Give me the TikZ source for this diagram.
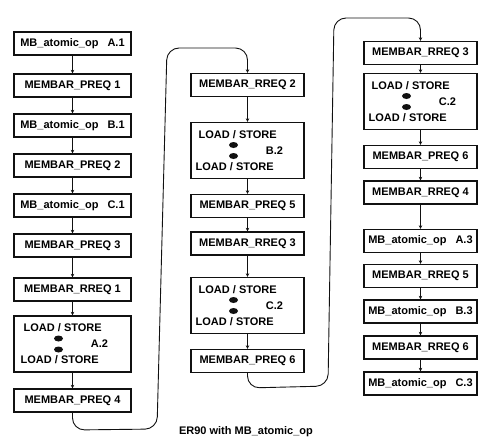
\documentclass[tikz,border=0pt]{standalone}
\usepackage{fontspec}
\setmainfont{Liberation Sans}
\usetikzlibrary{arrows.meta,shapes.geometric}
\definecolor{cInk}{HTML}{111111}
\tikzset{
  >={Stealth[length=3.5pt,width=3.5pt]},
  opbox/.style  ={draw=cInk,line width=1.3pt,minimum width=113pt,minimum height=23pt,
                  inner sep=0pt,font=\fontsize{11}{13}\selectfont\bfseries},
  widebox/.style={opbox,minimum width=117pt},
  lstext/.style ={inner sep=0pt,anchor=west,font=\fontsize{11}{13}\selectfont\bfseries},
  dot/.style    ={ellipse,fill=cInk,minimum width=9pt,minimum height=6pt,inner sep=0pt},
  flow/.style   ={->,cInk,line width=0.9pt},
  caption/.style={font=\fontsize{11}{13}\selectfont\bfseries},
}
\newcommand{\lsblock}[5][opbox]{
  \node[#1,minimum height=56pt] (#2) at (#3,#4) {};
  \node[lstext] (#2-top) at ([shift={(-49pt,16pt)}]#2.center) {LOAD / STORE};
  \node[lstext] (#2-bot) at ([shift={(-52pt,-16pt)}]#2.center) {LOAD / STORE};
  \node[dot] (#2-d1) at ([shift={(-14pt,5.5pt)}]#2.center) {};
  \node[dot] (#2-d2) at ([shift={(-14pt,-5.5pt)}]#2.center) {};
  \node[lstext,anchor=center] (#2-lbl) at ([shift={(27pt,0pt)}]#2.center) {#5};
}
\newcommand{\atomop}[1]{MB\_atomic\_op\hspace{9pt}#1}

\begin{document}
\begin{tikzpicture}[x=1pt,y=-1pt]
  \useasboundingbox (0,0) rectangle (483,448);

  \node[widebox] (a1) at (72.5,43.5)  {\atomop{A.1}};
  \node[widebox] (a2) at (72.5,85.5)  {MEMBAR\_PREQ 1};
  \node[widebox] (a3) at (72.5,125.5) {\atomop{B.1}};
  \node[widebox] (a4) at (72.5,165.5) {MEMBAR\_PREQ 2};
  \node[widebox] (a5) at (72.5,205.5) {\atomop{C.1}};
  \node[widebox] (a6) at (72.5,245.5) {MEMBAR\_PREQ 3};
  \node[widebox] (a7) at (72.5,289.5) {MEMBAR\_RREQ 1};
  \lsblock[widebox]{a8}{72.5}{344}{A.2}
  \node[widebox] (a9) at (72.5,400.5) {MEMBAR\_PREQ 4};

  \node[opbox] (b1) at (247.5,85)    {MEMBAR\_RREQ 2};
  \lsblock{b2}{247.5}{150.5}{B.2}
  \node[opbox] (b3) at (247.5,206)   {MEMBAR\_PREQ 5};
  \node[opbox] (b4) at (247.5,243.5) {MEMBAR\_RREQ 3};
  \lsblock{b5}{247.5}{305.5}{C.2}
  \node[opbox] (b6) at (247.5,361)   {MEMBAR\_PREQ 6};

  \node[opbox] (c1) at (420.5,53)    {MEMBAR\_RREQ 3};
  \lsblock{c2}{420.5}{101.5}{C.2}
  \node[opbox] (c3) at (420.5,157)   {MEMBAR\_PREQ 6};
  \node[opbox] (c4) at (420.5,192.5) {MEMBAR\_RREQ 4};
  \node[opbox] (c5) at (420.5,241)   {\atomop{A.3}};
  \node[opbox] (c6) at (420.5,276)   {MEMBAR\_RREQ 5};
  \node[opbox] (c7) at (420.5,311.5) {\atomop{B.3}};
  \node[opbox] (c8) at (420.5,347.5) {MEMBAR\_RREQ 6};
  \node[opbox] (c9) at (420.5,383.5) {\atomop{C.3}};

  \foreach \u/\v in {a1/a2,a2/a3,a3/a4,a4/a5,a5/a6,a6/a7,a7/a8,a8/a9,
                     b1/b2,b2/b3,b3/b4,b4/b5,b5/b6,
                     c1/c2,c2/c3,c3/c4,c4/c5,c5/c6,c6/c7,c7/c8,c8/c9}
    \draw[flow] (\u.south) -- (\v.north);

  \draw[flow,rounded corners=12pt] (a9.south) -- (72.5,430) -- (157,429) -- (167,48) -- (247.5,48) -- (b1.north);
  \draw[flow,rounded corners=12pt] (b6.south) -- (247.5,388) -- (328,386) -- (334,18) -- (420.5,18) -- (c1.north);

  \node[caption] (cap) at (246,432) {ER90 with MB\_atomic\_op};
\end{tikzpicture}
\end{document}
